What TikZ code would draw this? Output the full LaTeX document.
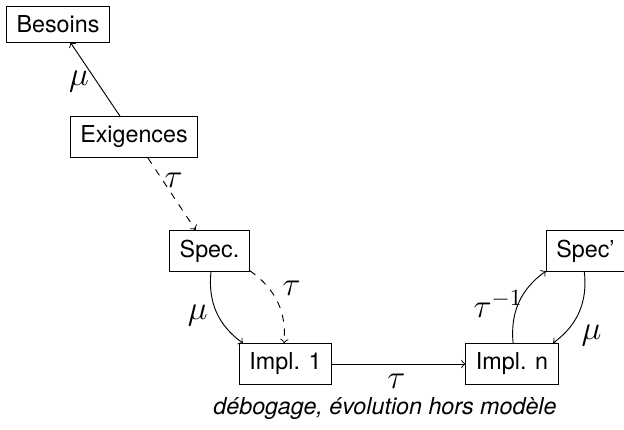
\documentclass[tikz,border=0pt]{standalone}
\usepackage{fontspec}
\setmainfont{TeX Gyre Heros}
\usetikzlibrary{arrows}
\begin{document}
\begin{tikzpicture}[x=0.4292pt,y=-0.4292pt,
  box/.style={draw, inner xsep=4.3pt, inner ysep=4pt, font=\fontsize{10}{12}\selectfont},
  arr/.style={->},
  lab/.style={font=\fontsize{14.4}{17}\selectfont}]
\useasboundingbox (0,0) rectangle (624,429);
\node[box] (bes) at (58,24) {Besoins};
\node[box] (exi) at (134,137) {Exigences};
\node[box] (spec) at (209.5,251) {Spec.};
\node[box] (impl1) at (285.5,364) {Impl. 1};
\node[box] (impln) at (512,364) {Impl. n};
\node[box] (specp) at (585.5,251) {Spec'};
\draw[arr] (exi) -- node[lab, left, pos=0.5, xshift=0.8pt, yshift=-1pt] {$\mu$} (bes);
\draw[arr, dashed] (exi) -- node[lab, right, pos=0.29, xshift=-2.3pt, yshift=-0.5pt] {$\tau$} (spec);
\draw[arr] (spec) to[bend right=30] node[lab, left, pos=0.5, xshift=-0.3pt, yshift=-1.3pt] {$\mu$} (impl1);
\draw[arr, dashed] (spec) to[bend left=30] node[lab, right, pos=0.3, xshift=2.3pt] {$\tau$} (impl1);
\draw[arr] (impl1) -- node[lab, below, xshift=-1pt, yshift=-0.8pt] {$\tau$} (impln);
\draw[arr] (impln) to[bend left=30] node[lab, anchor=east, inner sep=0pt, pos=0.5, xshift=1.8pt, yshift=-0.8pt] {$\tau^{-1}$} (specp);
\draw[arr] (specp) to[bend left=30] node[lab, right, pos=0.75, xshift=2pt, yshift=-3pt] {$\mu$} (impln);
\node[font=\fontsize{10}{12}\selectfont\itshape] (cap) at (385,409) {débogage, évolution hors modèle};
\end{tikzpicture}
\end{document}
